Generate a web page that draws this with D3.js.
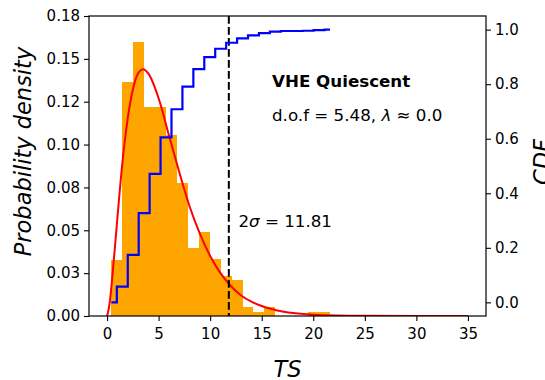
<!DOCTYPE html>
<html>
<head>
<meta charset="utf-8">
<script src="https://cdn.jsdelivr.net/npm/d3@7"></script>
<style>
  body { margin: 0; background: #fff; }
  text { font-family: "DejaVu Sans", sans-serif; }
</style>
</head>
<body>
<svg id="chart" width="545" height="380"></svg>
<script>
// histogram of TS values (density)
var binEdges = [0.42, 1.48, 2.54, 3.60, 4.66, 5.72, 6.78, 7.84, 8.90, 9.96, 11.02,
                12.08, 13.14, 14.20, 15.26, 16.32, 17.38, 18.44, 19.50, 20.56, 21.62];
var binDensity = [0.0327, 0.1367, 0.1598, 0.1217, 0.1217, 0.1056, 0.0774, 0.0395, 0.049, 0.0331,
                  0.0233, 0.021, 0.0051, 0.0025, 0.0051, 0, 0, 0, 0.0025, 0.0025];

// cumulative distribution (step line, right axis)
var cdfX = [0.42, 0.95, 2.01, 3.07, 4.13, 5.19, 6.25, 7.31, 8.37, 9.43, 10.49, 11.55,
            12.61, 13.67, 14.73, 15.79, 16.85, 17.91, 18.97, 20.03, 21.09, 21.62];
var cdfY = [0, 0.058, 0.174, 0.327, 0.471, 0.605, 0.708, 0.791, 0.855, 0.899, 0.930, 0.952,
            0.968, 0.979, 0.987, 0.993, 0.995, 0.995, 0.996, 0.998, 1.0, 1.0];

// fitted chi2 curve
var fitX = [0, 0.25, 0.5, 1, 1.5, 2, 2.5, 3, 3.5, 4, 5, 6, 7, 8, 9, 10, 11, 12, 13, 14, 15, 17, 20, 25, 30, 35];
var fitY = [0, 0.0074, 0.022, 0.057, 0.090, 0.115, 0.132, 0.1415, 0.144, 0.1415, 0.127, 0.1055, 0.084,
            0.064, 0.048, 0.035, 0.025, 0.0175, 0.012, 0.0084, 0.0058, 0.0026, 0.0008, 0.0001, 0, 0];

var threshold = 11.81;

var xTicks = [0, 5, 10, 15, 20, 25, 30, 35];
var yTicks = [0, 0.025, 0.05, 0.075, 0.1, 0.125, 0.15, 0.175];
var yTickLabels = ["0.00", "0.03", "0.05", "0.08", "0.10", "0.12", "0.15", "0.18"];
var cdfTicks = [0, 0.2, 0.4, 0.6, 0.8, 1.0];

var margin = {top: 16, right: 59, bottom: 64, left: 89},
    width = 545 - margin.left - margin.right,
    height = 380 - margin.top - margin.bottom;

var x = d3.scaleLinear().domain([-1.75, 36.75]).range([0, width]);
var y = d3.scaleLinear().domain([0, 0.175]).range([height, 0]);
var y2 = d3.scaleLinear().domain([-0.05, 1.05]).range([height, 0]);

var svg = d3.select("#chart");
var g = svg.append("g")
    .attr("transform", "translate(" + margin.left + "," + margin.top + ")");

// clip to the plot area
g.append("clipPath").attr("id", "clip")
  .append("rect").attr("width", width).attr("height", height);
var plot = g.append("g").attr("clip-path", "url(#clip)");

// histogram bars
plot.selectAll("rect.bar")
    .data(binDensity)
  .enter().append("rect")
    .attr("class", "bar")
    .attr("x", function(d, i) { return x(binEdges[i]); })
    .attr("width", function(d, i) { return x(binEdges[i + 1]) - x(binEdges[i]); })
    .attr("y", function(d) { return y(d); })
    .attr("height", function(d) { return y(0) - y(d); })
    .attr("fill", "#ffa500")
    .attr("shape-rendering", "crispEdges");

// fitted pdf
var fitLine = d3.line()
    .x(function(d, i) { return x(fitX[i]); })
    .y(function(d) { return y(d); })
    .curve(d3.curveMonotoneX);
plot.append("path")
    .datum(fitY)
    .attr("d", fitLine)
    .attr("fill", "none")
    .attr("stroke", "#ff0000")
    .attr("stroke-width", 2);

// 2 sigma line
plot.append("line")
    .attr("x1", x(threshold)).attr("x2", x(threshold))
    .attr("y1", 0).attr("y2", height)
    .attr("stroke", "#000")
    .attr("stroke-width", 2)
    .attr("stroke-dasharray", "7.7,3.3");

// cdf step line
var cdfLine = d3.line()
    .x(function(d, i) { return x(cdfX[i]); })
    .y(function(d) { return y2(d); })
    .curve(d3.curveStepAfter);
plot.append("path")
    .datum(cdfY)
    .attr("d", cdfLine)
    .attr("fill", "none")
    .attr("stroke", "#0000ff")
    .attr("stroke-width", 2.2);

// axes
var xAxis = g.append("g")
    .attr("transform", "translate(0," + height + ")")
    .call(d3.axisBottom(x).tickValues(xTicks).tickSize(5).tickPadding(7.5).tickSizeOuter(0));
var yAxis = g.append("g")
    .call(d3.axisLeft(y).tickValues(yTicks).tickSize(5).tickPadding(4).tickSizeOuter(0)
      .tickFormat(function(d, i) { return yTickLabels[i]; }));
var y2Axis = g.append("g")
    .attr("transform", "translate(" + width + ",0)")
    .call(d3.axisRight(y2).tickValues(cdfTicks).tickSize(5).tickPadding(4).tickSizeOuter(0)
      .tickFormat(d3.format(".1f")));

[xAxis, yAxis, y2Axis].forEach(function(a) {
  a.attr("font-size", 15).attr("font-family", "DejaVu Sans");
  a.select(".domain").remove();
  a.selectAll(".tick line").attr("stroke", "#000").attr("stroke-width", 1.1);
  a.selectAll(".tick text").attr("fill", "#000");
});

// frame
g.append("rect")
    .attr("width", width).attr("height", height)
    .attr("fill", "none")
    .attr("stroke", "#000")
    .attr("stroke-width", 1.2);

// annotations
g.append("text")
    .attr("x", x(16.0)).attr("y", y(0.1334))
    .attr("font-size", 16.7).attr("font-weight", "bold")
    .text("VHE Quiescent");

var dof = g.append("text")
    .attr("x", x(16.0)).attr("y", y(0.1135))
    .attr("font-size", 16.7);
dof.append("tspan").text("d.o.f = 5.48, ");
dof.append("tspan").attr("font-style", "italic").text("λ");
dof.append("tspan").text("\u00a0\u2248\u00a00.0");

var sig = g.append("text")
    .attr("x", x(12.74)).attr("y", y(0.0522))
    .attr("font-size", 16.7);
sig.append("tspan").text("2");
sig.append("tspan").attr("font-style", "italic").text("σ");
sig.append("tspan").text(" = 11.81");

// axis labels
svg.append("text")
    .attr("x", margin.left + width / 2).attr("y", 377)
    .attr("text-anchor", "middle")
    .attr("font-size", 22.5).attr("font-style", "italic")
    .text("TS");

svg.append("text")
    .attr("transform", "translate(31,151.5) rotate(-90)")
    .attr("text-anchor", "middle")
    .attr("font-size", 22.5).attr("font-style", "italic")
    .text("Probability density");

svg.append("text")
    .attr("transform", "translate(549.5,162) rotate(-90)")
    .attr("text-anchor", "middle")
    .attr("font-size", 22.5).attr("font-style", "italic")
    .text("CDF");
</script>
</body>
</html>
